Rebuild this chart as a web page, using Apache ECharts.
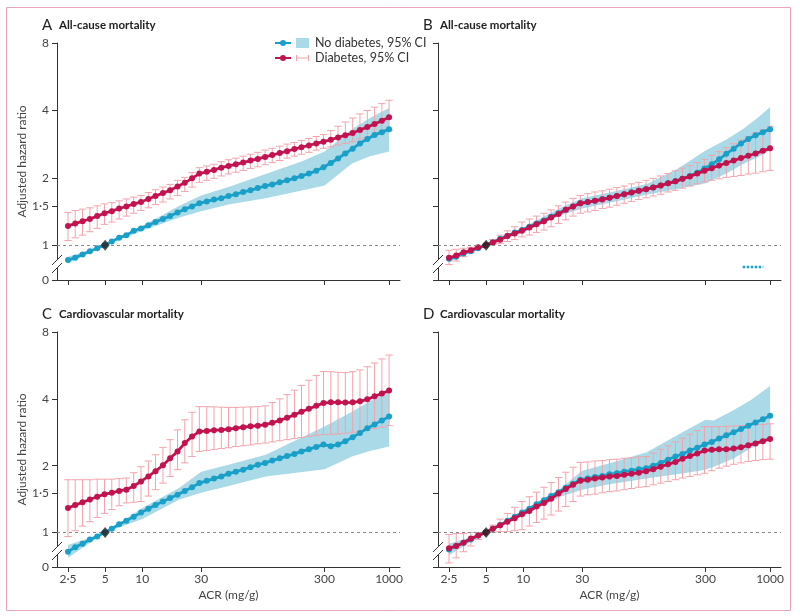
<!DOCTYPE html>
<html><head><meta charset="utf-8">
<script src="https://cdn.jsdelivr.net/npm/echarts@6/dist/echarts.min.js"></script>
<style>html,body{margin:0;padding:0;background:#fff}#c{width:800px;height:616px}</style>
</head><body><div id="c"></div><script>
// ---- data ----
const acr = [2.5,2.86,3.28,3.76,4.31,4.94,5.66,6.49,7.43,8.52,9.76,11.2,12.8,14.7,16.8,19.3,22.1,25.3,29.0,33.3,38.1,43.7,50.0,57.3,65.7,75.3,86.3,98.9,113,130,149,171,195,224,257,294,337,386,442,507,581,666,763,874,1000];
const xTicks = [2.5,5,10,30,300,1000];
const yTicks = [0.7001,1,1.5,2,4,7.999];

// Panel A: all-cause mortality
const aBlueEst = [0.86,0.88,0.91,0.94,0.97,1.00,1.04,1.08,1.11,1.16,1.19,1.23,1.27,1.31,1.35,1.40,1.45,1.49,1.54,1.57,1.60,1.62,1.66,1.69,1.73,1.76,1.80,1.84,1.87,1.91,1.95,1.99,2.04,2.09,2.15,2.23,2.33,2.44,2.57,2.70,2.85,2.98,3.11,3.20,3.30];
const aRedEst = [1.22,1.25,1.28,1.31,1.35,1.39,1.42,1.46,1.49,1.53,1.56,1.61,1.66,1.71,1.76,1.83,1.90,1.99,2.09,2.13,2.17,2.22,2.26,2.30,2.34,2.39,2.43,2.48,2.53,2.58,2.63,2.69,2.74,2.79,2.85,2.90,2.96,3.03,3.10,3.17,3.27,3.37,3.48,3.60,3.73];
const aRedLo = [1.05,1.08,1.11,1.15,1.19,1.24,1.27,1.31,1.35,1.39,1.43,1.47,1.52,1.56,1.61,1.67,1.74,1.82,1.91,1.95,1.99,2.04,2.08,2.12,2.16,2.20,2.24,2.29,2.34,2.39,2.45,2.50,2.55,2.60,2.66,2.71,2.75,2.80,2.85,2.90,2.98,3.03,3.10,3.17,3.26];
const aRedHi = [1.40,1.43,1.45,1.47,1.50,1.53,1.55,1.58,1.61,1.64,1.67,1.72,1.77,1.82,1.87,1.95,2.01,2.11,2.22,2.26,2.30,2.36,2.41,2.45,2.50,2.55,2.60,2.66,2.71,2.77,2.83,2.88,2.94,3.00,3.06,3.12,3.25,3.40,3.55,3.70,3.86,4.00,4.14,4.29,4.44];
const aBandX = [2.5,5,10,20,30,50,100,200,300,500,700,1000];
const aBandLo = [0.83,1.0,1.16,1.33,1.42,1.52,1.62,1.76,1.85,2.32,2.50,2.62];
const aBandHi = [0.89,1.0,1.22,1.50,1.67,1.82,2.08,2.38,2.62,3.30,3.70,4.10];

// Panel B: all-cause mortality
const bBlueEst = [0.87,0.89,0.92,0.94,0.97,1.00,1.03,1.07,1.10,1.14,1.17,1.21,1.25,1.29,1.34,1.39,1.44,1.49,1.54,1.56,1.58,1.61,1.63,1.66,1.69,1.72,1.75,1.78,1.81,1.85,1.89,1.93,1.98,2.04,2.11,2.20,2.30,2.42,2.56,2.70,2.85,2.98,3.10,3.20,3.30];
const bRedEst = [0.88,0.90,0.93,0.95,0.98,1.00,1.03,1.06,1.10,1.13,1.16,1.20,1.24,1.28,1.33,1.38,1.44,1.49,1.54,1.56,1.58,1.60,1.63,1.66,1.69,1.72,1.75,1.78,1.81,1.85,1.89,1.93,1.98,2.03,2.09,2.15,2.21,2.27,2.33,2.39,2.45,2.51,2.57,2.64,2.71];
const bRedLo = [0.82,0.85,0.89,0.93,0.97,1.00,1.01,1.02,1.04,1.06,1.09,1.11,1.14,1.17,1.21,1.25,1.30,1.35,1.39,1.41,1.43,1.46,1.48,1.51,1.54,1.57,1.60,1.63,1.66,1.69,1.73,1.76,1.80,1.84,1.88,1.92,1.95,1.98,2.01,2.03,2.05,2.08,2.10,2.13,2.16];
const bRedHi = [0.95,0.96,0.97,0.98,0.99,1.00,1.06,1.11,1.16,1.21,1.27,1.31,1.35,1.39,1.44,1.50,1.56,1.62,1.67,1.70,1.73,1.75,1.78,1.81,1.84,1.88,1.91,1.95,1.99,2.04,2.09,2.15,2.21,2.27,2.34,2.42,2.52,2.62,2.73,2.84,2.95,3.06,3.17,3.28,3.40];
const bBandX = [2.5,5,10,20,30,50,100,180,300,450,600,800,1000];
const bBandLo = [0.84,1.0,1.14,1.36,1.46,1.55,1.68,1.79,1.89,2.10,2.30,2.48,2.65];
const bBandHi = [0.89,1.0,1.20,1.47,1.62,1.72,1.88,2.20,2.65,2.98,3.30,3.72,4.14];
const bStrayX = [600,880];
const bStrayY = [0.80,0.80];

// Panel C: cardiovascular mortality
const cBlueEst = [0.82,0.86,0.89,0.93,0.96,1.00,1.04,1.09,1.13,1.18,1.23,1.28,1.33,1.38,1.43,1.48,1.54,1.60,1.67,1.71,1.75,1.79,1.84,1.88,1.92,1.97,2.02,2.06,2.11,2.16,2.21,2.26,2.32,2.37,2.43,2.49,2.45,2.49,2.58,2.69,2.81,2.95,3.07,3.20,3.33];
const cRedEst = [1.29,1.33,1.37,1.41,1.45,1.49,1.51,1.54,1.56,1.62,1.70,1.79,1.89,2.01,2.16,2.32,2.53,2.71,2.85,2.87,2.89,2.90,2.92,2.95,2.98,3.01,3.03,3.06,3.12,3.20,3.29,3.39,3.50,3.61,3.72,3.83,3.86,3.86,3.85,3.86,3.90,3.98,4.11,4.23,4.36];
const cRedLo = [0.96,1.02,1.07,1.12,1.17,1.22,1.27,1.32,1.36,1.37,1.38,1.46,1.56,1.67,1.79,1.92,2.06,2.20,2.32,2.34,2.37,2.39,2.41,2.44,2.46,2.48,2.51,2.53,2.56,2.59,2.62,2.65,2.68,2.71,2.74,2.76,2.77,2.78,2.80,2.83,2.86,2.90,2.94,2.98,3.03];
const cRedHi = [1.73,1.73,1.73,1.73,1.74,1.74,1.74,1.75,1.76,1.86,1.98,2.10,2.24,2.42,2.62,2.90,3.22,3.48,3.69,3.69,3.68,3.67,3.66,3.66,3.67,3.68,3.69,3.72,3.85,4.00,4.18,4.38,4.60,4.85,5.10,5.31,5.30,5.27,5.25,5.30,5.40,5.58,5.80,6.05,6.30];
const cBandX = [2.5,5,10,20,30,50,100,300,500,700,1000];
const cBandLo = [0.77,1.0,1.15,1.41,1.51,1.62,1.79,1.93,2.20,2.33,2.44];
const cBandHi = [0.88,1.0,1.29,1.59,1.88,2.02,2.24,3.00,3.50,3.90,4.39];

// Panel D: cardiovascular mortality
const dBlueEst = [0.84,0.87,0.90,0.93,0.97,1.00,1.04,1.08,1.13,1.18,1.23,1.28,1.34,1.40,1.46,1.52,1.59,1.66,1.73,1.75,1.78,1.80,1.83,1.85,1.88,1.90,1.93,1.95,2.00,2.06,2.13,2.20,2.26,2.34,2.41,2.49,2.56,2.65,2.74,2.83,2.93,3.03,3.13,3.24,3.36];
const dRedEst = [0.85,0.87,0.90,0.94,0.97,1.00,1.04,1.08,1.12,1.16,1.21,1.25,1.31,1.36,1.42,1.50,1.57,1.64,1.71,1.73,1.75,1.77,1.79,1.80,1.82,1.84,1.86,1.89,1.93,1.98,2.03,2.08,2.15,2.21,2.27,2.34,2.36,2.37,2.37,2.39,2.42,2.47,2.52,2.58,2.64];
const dRedLo = [0.73,0.77,0.82,0.87,0.93,1.00,1.00,1.01,1.01,1.02,1.03,1.07,1.11,1.15,1.20,1.25,1.31,1.38,1.46,1.48,1.49,1.51,1.53,1.54,1.56,1.58,1.60,1.61,1.64,1.67,1.70,1.73,1.76,1.79,1.82,1.85,1.90,1.95,1.99,2.03,2.06,2.09,2.11,2.13,2.14];
const dRedHi = [0.98,0.99,0.99,1.00,1.00,1.00,1.08,1.15,1.22,1.30,1.38,1.45,1.52,1.60,1.68,1.77,1.87,1.97,2.07,2.08,2.10,2.11,2.13,2.14,2.16,2.17,2.19,2.20,2.28,2.37,2.46,2.56,2.66,2.77,2.88,3.00,3.00,3.00,3.01,3.02,3.03,3.04,3.06,3.07,3.09];
const dBandX = [2.5,5,10,20,30,50,100,200,300,350,500,700,1000];
const dBandLo = [0.79,1.0,1.19,1.45,1.56,1.65,1.75,1.85,1.92,1.98,2.15,2.40,2.62];
const dBandHi = [0.89,1.0,1.26,1.58,1.90,2.05,2.30,2.85,3.22,3.20,3.55,3.95,4.57];

const refX = [5];
const refY = [1];

// ---- styling ----
const FONT = 'Lato, "Open Sans", sans-serif';
const BLUE = '#1aa0c8', RED = '#c2134f', BAND = '#aad9e7', PINK = '#f2a3ab', AXIS = '#333';

const panels = [
  {letter:'A', title:'All-cause mortality', left:57, top:43, h:237, yLab:true, xLab:false,
   be:aBlueEst, re:aRedEst, rl:aRedLo, rh:aRedHi, bx:aBandX, bl:aBandLo, bh:aBandHi},
  {letter:'B', title:'All-cause mortality', left:438, top:43, h:237, yLab:false, xLab:false,
   be:bBlueEst, re:bRedEst, rl:bRedLo, rh:bRedHi, bx:bBandX, bl:bBandLo, bh:bBandHi, stray:true},
  {letter:'C', title:'Cardiovascular mortality', left:57, top:332, h:235, yLab:true, xLab:true,
   be:cBlueEst, re:cRedEst, rl:cRedLo, rh:cRedHi, bx:cBandX, bl:cBandLo, bh:cBandHi},
  {letter:'D', title:'Cardiovascular mortality', left:438, top:332, h:235, yLab:false, xLab:true,
   be:dBlueEst, re:dRedEst, rl:dRedLo, rh:dRedHi, bx:dBandX, bl:dBandLo, bh:dBandHi}
];

const fmtY = v => v < 0.75 ? '0' : (v > 7.9 ? '8' : (Math.abs(v - 1.5) < 0.01 ? '1·5' : String(Math.round(v))));
const fmtX = v => Math.abs(v - 2.5) < 0.01 ? '2·5' : String(Math.round(v));

const grid = [], xAxis = [], yAxis = [], series = [], graphic = [];

graphic.push({type:'rect', z:0, shape:{x:6.5, y:7.5, width:784, height:603}, style:{fill:'none', stroke:'#eaa5bd', lineWidth:1}});

panels.forEach((p, i) => {
  grid.push({left:p.left, top:p.top, width:343, height:p.h});
  xAxis.push({
    type:'log', logBase:10, min:2.036, max:1226, gridIndex:i,
    axisLine:{show:true, onZero:false, lineStyle:{color:AXIS, width:1}},
    axisTick:{show:true, customValues:xTicks, length:5, lineStyle:{color:AXIS}},
    axisLabel:{show:p.xLab, customValues:xTicks, formatter:fmtX, color:'#444', fontSize:12, fontFamily:FONT, margin:6},
    splitLine:{show:false},
    name: p.xLab ? 'ACR (mg/g)' : '', nameLocation:'middle', nameGap:22,
    nameTextStyle:{color:'#444', fontSize:12, fontFamily:FONT}
  });
  yAxis.push({
    type:'log', logBase:2, min:0.7, max:8, gridIndex:i,
    axisLine:{show:true, lineStyle:{color:AXIS, width:1}},
    axisTick:{show:true, customValues:yTicks, length:5, lineStyle:{color:AXIS}},
    axisLabel:{show:p.yLab, customValues:yTicks, formatter:fmtY, color:'#444', fontSize:12, fontFamily:FONT, margin:8},
    splitLine:{show:false},
    name: p.yLab ? 'Adjusted hazard ratio' : '', nameLocation:'middle', nameGap:27,
    nameTextStyle:{color:'#444', fontSize:12, fontFamily:FONT}
  });

  // CI band for no diabetes
  const bx = p.bx, bl = p.bl, bh = p.bh;
  series.push({
    type:'custom', xAxisIndex:i, yAxisIndex:i, z:1, silent:true,
    data: bx.map((x, j) => [x, bl[j], bh[j]]),
    renderItem: (params, api) => {
      if (params.dataIndex !== 0) return null;
      const pts = [];
      for (let j = 0; j < bx.length; j++) pts.push(api.coord([bx[j], bh[j]]));
      for (let j = bx.length - 1; j >= 0; j--) pts.push(api.coord([bx[j], bl[j]]));
      return {type:'polygon', shape:{points:pts}, style:{fill:BAND}};
    }
  });
  // error bars for diabetes
  series.push({
    type:'custom', xAxisIndex:i, yAxisIndex:i, z:2, silent:true,
    data: acr.map((x, j) => [x, p.rl[j], p.rh[j]]),
    renderItem: (params, api) => {
      const x = api.value(0);
      const a = api.coord([x, api.value(2)]), b = api.coord([x, api.value(1)]);
      const st = {stroke:PINK, lineWidth:1};
      return {type:'group', children:[
        {type:'line', shape:{x1:a[0], y1:a[1], x2:b[0], y2:b[1]}, style:st},
        {type:'line', shape:{x1:a[0]-3.7, y1:a[1], x2:a[0]+3.7, y2:a[1]}, style:st},
        {type:'line', shape:{x1:b[0]-3.7, y1:b[1], x2:b[0]+3.7, y2:b[1]}, style:st}
      ]};
    }
  });
  // no diabetes estimate
  series.push({
    type:'line', xAxisIndex:i, yAxisIndex:i, z:3, name:'No diabetes',
    data: acr.map((x, j) => [x, p.be[j]]),
    symbol:'circle', symbolSize:6, showAllSymbol:true,
    itemStyle:{color:BLUE}, lineStyle:{color:BLUE, width:2.8},
    markLine:{silent:true, symbol:'none', label:{show:false},
      lineStyle:{color:'#8a8a8a', width:1, type:[3,3]}, data:[{yAxis:1}]}
  });
  // diabetes estimate
  series.push({
    type:'line', xAxisIndex:i, yAxisIndex:i, z:4, name:'Diabetes',
    data: acr.map((x, j) => [x, p.re[j]]),
    symbol:'circle', symbolSize:6, showAllSymbol:true,
    itemStyle:{color:RED}, lineStyle:{color:RED, width:2.8}
  });
  // reference point
  series.push({
    type:'scatter', xAxisIndex:i, yAxisIndex:i, z:6,
    data: refX.map((x, j) => [x, refY[j]]),
    symbol:'diamond', symbolSize:[9,11], itemStyle:{color:'#222'}
  });
  if (p.stray) {
    series.push({
      type:'line', xAxisIndex:i, yAxisIndex:i, z:3, symbol:'none',
      data: bStrayX.map((x, j) => [x, bStrayY[j]]),
      lineStyle:{color:BLUE, width:2.5, type:[2.5,1.5], cap:'butt'}
    });
  }

  // panel titles
  const ty = p.top - 18;
  graphic.push({type:'text', z:10, x:p.left - 15, y:ty, style:{text:p.letter, font:'15px ' + FONT, fill:'#222', verticalAlign:'middle'}});
  graphic.push({type:'text', z:10, x:p.left + 2, y:ty, style:{text:p.title, font:'bold 11.5px ' + FONT, fill:'#222', verticalAlign:'middle'}});

  // axis break marks
  const ax = p.left, yb = p.top + p.h;
  graphic.push({type:'rect', z:20, shape:{x:ax - 2, y:yb - 20, width:4, height:8}, style:{fill:'#fff'}});
  graphic.push({type:'line', z:21, shape:{x1:ax - 5, y1:yb - 15, x2:ax + 5, y2:yb - 25}, style:{stroke:AXIS, lineWidth:1}});
  graphic.push({type:'line', z:21, shape:{x1:ax - 5, y1:yb - 7, x2:ax + 5, y2:yb - 17}, style:{stroke:AXIS, lineWidth:1}});
});

// legend (panel A)
graphic.push(
  {type:'line', z:10, shape:{x1:275, y1:43, x2:291, y2:43}, style:{stroke:BLUE, lineWidth:2}},
  {type:'circle', z:11, shape:{cx:283, cy:43, r:3}, style:{fill:BLUE}},
  {type:'rect', z:10, shape:{x:296, y:38, width:13, height:10}, style:{fill:BAND}},
  {type:'text', z:10, x:315, y:43, style:{text:'No diabetes, 95% CI', font:'12.5px ' + FONT, fill:'#333', verticalAlign:'middle'}},
  {type:'line', z:10, shape:{x1:275, y1:58, x2:291, y2:58}, style:{stroke:RED, lineWidth:2}},
  {type:'circle', z:11, shape:{cx:283, cy:58, r:3}, style:{fill:RED}},
  {type:'line', z:10, shape:{x1:296, y1:58, x2:309, y2:58}, style:{stroke:PINK, lineWidth:1}},
  {type:'line', z:10, shape:{x1:296.5, y1:55, x2:296.5, y2:61}, style:{stroke:PINK, lineWidth:1}},
  {type:'line', z:10, shape:{x1:308.5, y1:55, x2:308.5, y2:61}, style:{stroke:PINK, lineWidth:1}},
  {type:'text', z:10, x:315, y:58, style:{text:'Diabetes, 95% CI', font:'12.5px ' + FONT, fill:'#333', verticalAlign:'middle'}}
);

const chart = echarts.init(document.getElementById('c'), null, {renderer:'canvas'});
chart.setOption({animation:false, backgroundColor:'#fff', grid, xAxis, yAxis, series, graphic});
</script></body></html>
